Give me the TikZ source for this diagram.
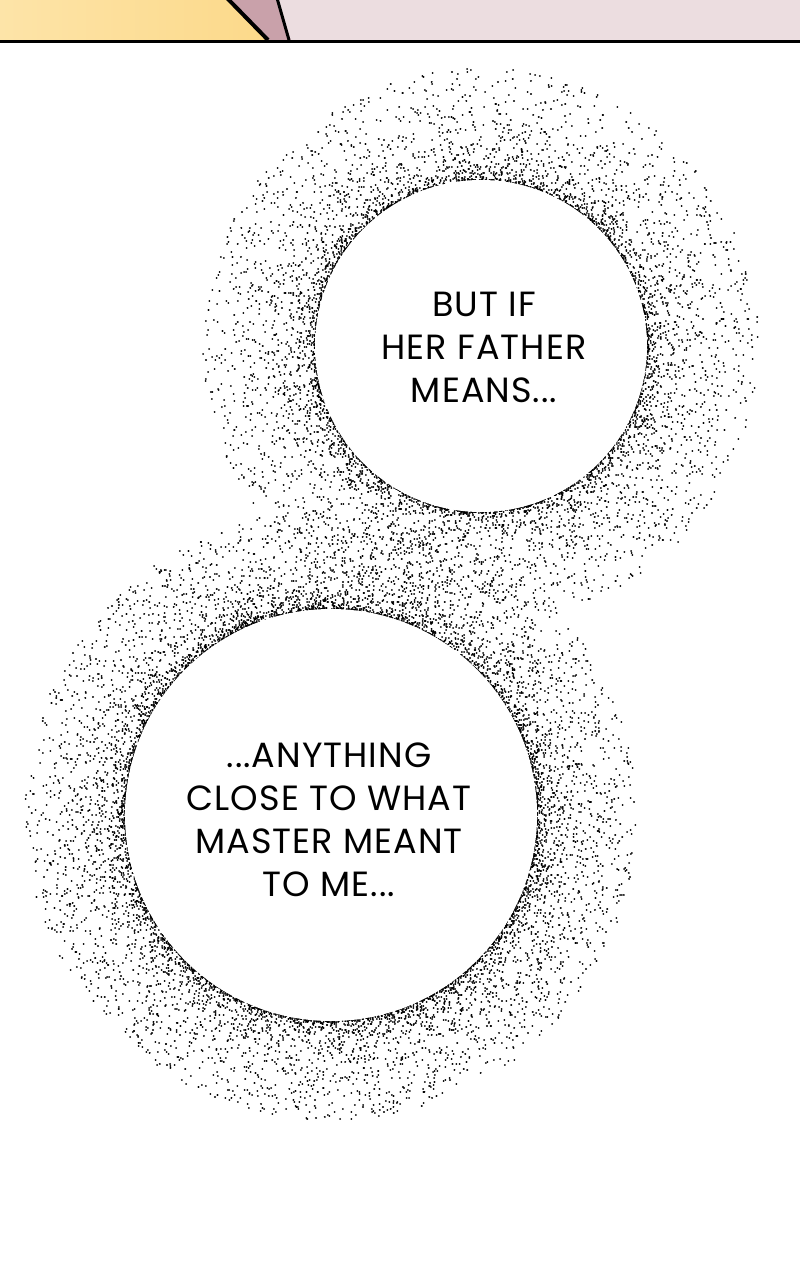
\documentclass[tikz,border=0pt]{standalone}
\usepackage{fontspec}
\setmainfont{Poppins}[LetterSpace=3]
\definecolor{panelyellowA}{HTML}{FDE4A8}
\definecolor{panelyellowB}{HTML}{FCD98A}
\definecolor{panelmauve}{HTML}{C9A1AA}
\definecolor{panelpink}{HTML}{ECDDE0}
\begin{document}
\begin{tikzpicture}[x=1pt,y=-1pt,
  bubbletext/.style={align=center, text=black, inner sep=0pt,
    font=\fontsize{35}{43}\selectfont},
  inkline/.style={draw=black, line cap=butt},
  halftone/.style={draw=black, line width=2pt, line cap=round}]
\useasboundingbox (0,0) rectangle (800,1280);
\fill[white] (0,0) rectangle (800,1280);
% top panel strip
\shade[left color=panelyellowA, right color=panelyellowB] (0,0) -- (228,0) -- (269,40) -- (0,40) -- cycle;
\fill[panelmauve] (228,0) -- (278,0) -- (291,40) -- (269,40) -- cycle;
\fill[panelpink] (278,0) -- (800,0) -- (800,40) -- (291,40) -- cycle;
\draw[inkline, line width=4pt] (227,-2) -- (268,40);
\draw[inkline, line width=3pt] (277,-2) -- (289,40);
\draw[inkline, line width=3pt] (0,41) -- (800,41);
% halftone rings
\pgfmathsetseed{4242}
\foreach \k in {1,...,14} {
  \draw[halftone] \foreach \i [evaluate=\i as \a using {360*rnd}, evaluate=\i as \r using {166+112*(rnd)^2.4}, evaluate=\i as \x using {481+\r*cos(\a)}, evaluate=\i as \y using {346+\r*sin(\a)}] in {1,...,400} { (\x,\y) -- ++(0.05,0) };
}
\foreach \k in {1,...,19} {
  \draw[halftone] \foreach \i [evaluate=\i as \a using {360*rnd}, evaluate=\i as \r using {206+100*(rnd)^2.4}, evaluate=\i as \x using {331+\r*cos(\a)}, evaluate=\i as \y using {815+\r*sin(\a)}] in {1,...,400} { (\x,\y) -- ++(0.05,0) };
}
\fill[white] (481,346) circle[radius=166];
\fill[white] (331,815) circle[radius=206];
% texts
\node[bubbletext] (upper) at (484,347) {BUT IF\\HER FATHER\\MEANS...};
\node[bubbletext] (lower) at (329,820) {...ANYTHING\\CLOSE TO WHAT\\MASTER MEANT\\TO ME...};
\end{tikzpicture}
\end{document}
